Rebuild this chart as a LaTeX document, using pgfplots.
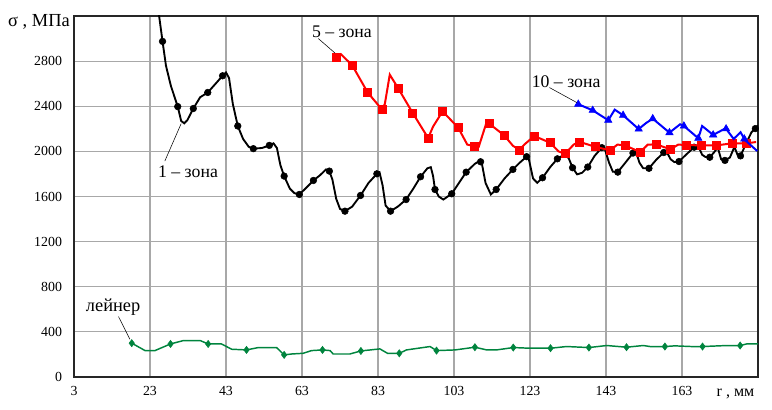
\documentclass[border=0pt]{standalone}
\usepackage{fontspec}
\setmainfont{Liberation Serif}
\usepackage{pgfplots}
\pgfplotsset{compat=1.18}
\definecolor{lgreen}{RGB}{0,132,62}
\definecolor{gridgray}{RGB}{168,168,168}
\begin{document}
\begin{tikzpicture}
\begin{axis}[
 scale only axis, width=513pt, height=270.75pt,
 xmin=3, xmax=183, ymin=0, ymax=3200,
 xtick={3,23,...,163}, ytick={0,400,...,2800},
 grid=major, grid style={line width=0.9pt, color=gridgray},
 axis line style={line width=1.1pt, black!85},
 major tick length=0pt,
 tick label style={font=\fontsize{10.4}{12}\selectfont},
 xticklabel style={yshift=-3.5pt},
 yticklabel style={xshift=-5.5pt},
 /pgf/number format/assume math mode=true,
 /pgf/number format/1000 sep={},
 clip mode=individual,
]
% 1 - zona line
\addplot[black, line width=1.4pt, no marks] coordinates {
(25.0,3300) (26.3,2975) (27.2,2760) (28.5,2580) (30.3,2397) (31.2,2270) (32.0,2249) (32.8,2275)
(34.4,2380) (36.2,2480) (38.2,2522) (40.0,2590) (42.1,2670) (43.0,2700) (43.8,2650) (44.8,2420)
(46.1,2225) (47.5,2110) (49.0,2040) (50.2,2024) (52.5,2030) (54.4,2053) (55.5,2071) (56.4,2030)
(57.3,1880) (58.3,1781) (59.8,1670) (61.0,1630) (62.3,1618) (64.2,1680) (66.0,1742) (67.8,1790)
(69.3,1840) (70.2,1825) (71.0,1750) (72.0,1580) (73.0,1490) (74.3,1470) (76.2,1510) (78.4,1609)
(80.5,1720) (82.7,1801) (83.4,1815) (84.2,1700) (85.0,1520) (86.3,1470) (88.2,1510) (90.4,1573)
(92.3,1670) (94.2,1775) (96.0,1850) (96.9,1860) (97.5,1780) (98.0,1662) (99.0,1600) (100.2,1573)
(102.4,1624) (104.3,1720) (106.2,1816) (108.5,1890) (109.6,1912) (110.4,1880) (111.3,1720) (112.7,1618)
(114.1,1662) (116.3,1760) (118.5,1840) (120.3,1900) (122.1,1953) (122.7,1930) (123.8,1760) (124.9,1721)
(126.3,1766) (128.3,1860) (130.2,1934) (132.4,1980) (133.3,1930) (134.2,1855) (135.4,1796) (136.7,1810)
(138.2,1861) (140.0,1960) (141.9,2033) (142.7,2020) (143.8,1900) (144.8,1820) (146.1,1816) (148.1,1900)
(150.1,1985) (150.9,1995) (151.8,1900) (152.8,1850) (154.3,1850) (156.2,1925) (158.2,1990) (159.0,1995)
(160.0,1930) (161.0,1905) (162.2,1910) (164.2,1975) (166.2,2037) (167.3,2045) (168.3,1970) (169.2,1950)
(170.3,1948) (171.4,1990) (172.4,2035) (173.3,1930) (174.3,1920) (175.6,1945) (176.8,2040) (177.6,1970)
(178.4,1960) (180.0,2080) (181.3,2170) (182.3,2202) (183.0,2230)
};
\addplot[black, only marks, mark=*, mark size=2.5pt] coordinates {
(26.3,2975) (30.3,2397) (34.4,2380) (38.2,2522) (42.1,2670) (46.1,2225) (50.2,2024) (54.4,2053)
(58.3,1781) (62.3,1618) (66.0,1742) (70.2,1825) (74.3,1470) (78.4,1609) (82.7,1801) (86.3,1470)
(90.4,1573) (94.2,1775) (98.0,1662) (102.4,1624) (106.2,1816) (110.0,1908) (114.1,1662) (118.5,1840)
(122.1,1953) (126.3,1766) (130.2,1934) (134.2,1855) (138.2,1861) (141.9,2033) (146.1,1816) (150.1,1985)
(154.3,1850) (158.2,1990) (162.2,1910) (166.2,2037) (170.3,1948) (174.3,1920) (178.4,1960) (182.3,2202)
};
% 5 - zona
\addplot[red, line width=1.5pt, no marks] coordinates {
(72.1,2833) (73.2,2862) (76.2,2764) (80.3,2521) (84.0,2373) (84.8,2420) (86.1,2680) (88.3,2560)
(92.1,2342) (96.2,2118) (97.5,2220) (100.0,2355) (104.1,2210) (106.5,2060) (108.3,2047) (109.5,2040)
(111.5,2250) (112.3,2245) (116.2,2142) (118.5,2050) (120.2,2012) (121.5,2060) (124.1,2136) (128.3,2077)
(130.5,2000) (132.2,1979) (134.5,2060) (136.0,2085) (140.1,2041) (144.1,2009) (146.0,2060) (148.0,2053)
(152.0,1994) (154.0,2060) (156.2,2062) (160.0,2018) (162.0,2060) (164.1,2056) (168.0,2053) (172.1,2053)
(176.1,2071) (180.0,2071) (182.5,2083)
};
\addplot[red, only marks, mark=square*, mark size=3pt] coordinates {
(72.1,2833) (76.2,2764) (80.3,2521) (84.0,2373) (88.3,2560) (92.1,2342) (96.2,2118) (100.0,2355)
(104.1,2210) (108.3,2047) (112.3,2245) (116.2,2142) (120.2,2012) (124.1,2136) (128.3,2077) (132.2,1979)
(136.0,2085) (140.1,2041) (144.1,2009) (148.0,2053) (152.0,1994) (156.2,2062) (160.0,2018) (164.1,2056)
(168.0,2053) (172.1,2053) (176.1,2071) (180.0,2071)
};
% 10 - zona
\addplot[blue, line width=1.5pt, no marks] coordinates {
(135.7,2418) (139.5,2364) (143.6,2276) (145.3,2370) (147.5,2320) (151.6,2198) (153.5,2250) (155.3,2290)
(159.7,2166) (162.5,2240) (163.5,2225) (167.3,2116) (168.3,2225) (171.2,2146) (174.5,2205) (176.6,2110)
(178.4,2170) (179.6,2100) (182.8,2003)
};
\addplot[blue, only marks, mark=triangle*, mark size=3.2pt] coordinates {
(135.7,2418) (139.5,2364) (143.6,2276) (147.5,2320) (151.6,2198) (155.3,2290) (159.7,2166) (163.5,2225)
(167.3,2116) (171.2,2146) (174.6,2200) (179.4,2110)
};
% liner
\addplot[lgreen, line width=1.1pt, no marks] coordinates {
(18.2,300) (21.7,234) (24.3,234) (28.4,293) (31.8,323) (36.2,323) (38.3,293) (41.8,293)
(44.5,246) (48.4,240) (51.5,261) (56.3,261) (58.3,196) (60.3,204) (63.3,210) (65.5,234)
(68.4,240) (70.4,234) (71.2,204) (75.6,204) (78.5,231) (83.5,249) (85.5,210) (88.6,210)
(90.5,240) (96.7,270) (98.4,234) (103.3,240) (108.5,264) (111.6,240) (114.2,240) (118.6,261)
(123.0,255) (128.4,255) (132.6,270) (138.5,261) (143.2,279) (148.4,264) (152.8,279) (154.6,270)
(158.5,270) (161.1,276) (165.5,270) (168.4,270) (174.8,279) (178.3,279) (180.0,293) (183.0,293)
};
\addplot[lgreen, only marks, mark=diamond*, mark size=2.7pt] coordinates {
(18.2,300) (28.4,293) (38.3,293) (48.4,240) (58.3,196) (68.4,240) (78.5,231) (88.6,210)
(98.4,234) (108.5,264) (118.6,261) (128.4,255) (138.5,261) (148.4,264) (158.5,270) (168.4,270)
(178.3,279)
};
% leader lines
\addplot[black, line width=0.4pt, no marks] coordinates {(26.9,1914) (31.2,2246)};
\addplot[black, line width=0.4pt, no marks] coordinates {(67.3,3000) (71.7,2871)};
\addplot[black, line width=0.4pt, no marks] coordinates {(128.1,2566) (135.3,2433)};
\addplot[black, line width=0.4pt, no marks] coordinates {(14.7,536) (17.7,335)};
% annotations
\node[font=\fontsize{13.3}{14}\selectfont] at (axis cs:33.0,1822) {1 – зона};
\node[font=\fontsize{13.3}{14}\selectfont] at (axis cs:73.5,3058) {5 – зона};
\node[font=\fontsize{13.3}{14}\selectfont] at (axis cs:132.5,2622) {10 – зона};
\node[font=\fontsize{13.8}{14}\selectfont] at (axis cs:13.3,622) {лейнер};
\node[font=\fontsize{13.8}{14}\selectfont] at (rel axis cs:-0.0512,0.983) {σ , МПа};
\node[font=\fontsize{12}{14}\selectfont, anchor=east] at (rel axis cs:1.0015,-0.048) {r , мм};
\end{axis}
\pgfresetboundingbox
\path ([shift={(-55.5pt,-24.75pt)}]current axis.south west) rectangle ([shift={(10.5pt,12pt)}]current axis.north east);
\end{tikzpicture}
\end{document}
